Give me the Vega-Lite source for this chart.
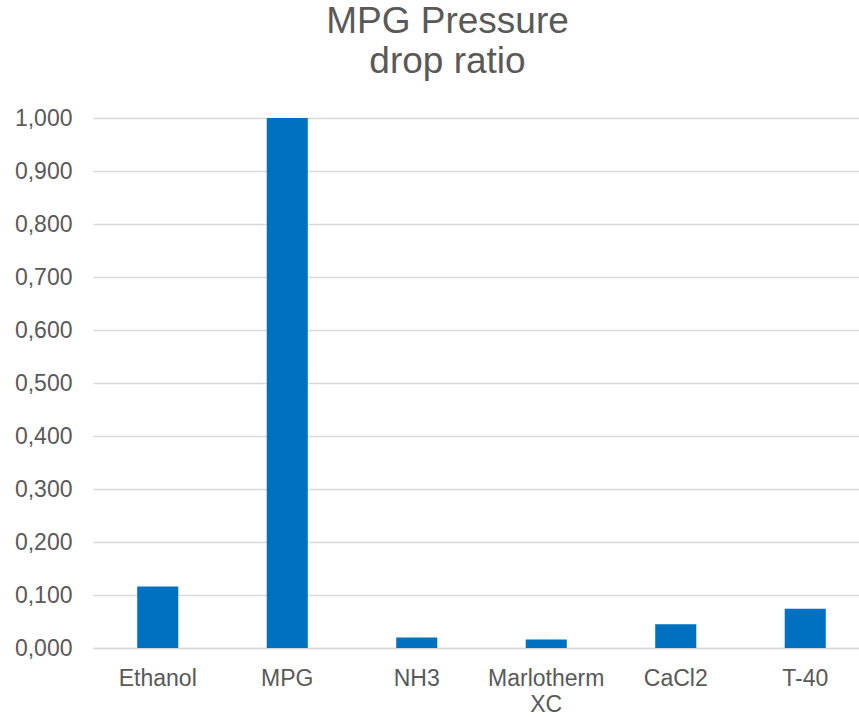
{
  "$schema": "https://vega.github.io/schema/vega-lite/v6.json",
  "autosize": "none",
  "width": 777,
  "height": 530,
  "padding": {"left": 93, "top": 118, "right": 0, "bottom": 69},
  "background": "white",
  "title": {
    "text": ["MPG Pressure", "drop ratio"],
    "font": "Liberation Sans",
    "fontSize": 37,
    "fontWeight": "normal",
    "color": "#595959",
    "lineHeight": 40,
    "anchor": "middle",
    "dx": -34,
    "offset": 26
  },
  "data": {
    "values": [
      {"fluid": "Ethanol", "ratio": 0.116},
      {"fluid": "MPG", "ratio": 1.0},
      {"fluid": "NH3", "ratio": 0.020},
      {"fluid": "Marlotherm XC", "ratio": 0.016},
      {"fluid": "CaCl2", "ratio": 0.045},
      {"fluid": "T-40", "ratio": 0.074}
    ]
  },
  "mark": {"type": "bar", "color": "#0070C0"},
  "encoding": {
    "x": {
      "field": "fluid",
      "type": "nominal",
      "sort": null,
      "scale": {"paddingInner": 0.683, "paddingOuter": 0.3415},
      "axis": {
        "title": null,
        "labelAngle": 0,
        "labelFont": "Liberation Sans",
        "labelFontSize": 23,
        "labelColor": "#595959",
        "labelPadding": 19,
        "labelLineHeight": 26,
        "labelExpr": "split(datum.label, ' ')",
        "ticks": false,
        "domain": true,
        "domainColor": "#d9d9d9",
        "domainWidth": 1.5,
        "grid": false
      }
    },
    "y": {
      "field": "ratio",
      "type": "quantitative",
      "scale": {"domain": [0, 1], "nice": false},
      "axis": {
        "title": null,
        "values": [0, 0.1, 0.2, 0.3, 0.4, 0.5, 0.6, 0.7, 0.8, 0.9, 1.0],
        "labelExpr": "replace(format(datum.value, '.3f'), '.', ',')",
        "labelFont": "Liberation Sans",
        "labelFontSize": 23,
        "labelColor": "#595959",
        "labelPadding": 21,
        "ticks": false,
        "domain": false,
        "grid": true,
        "gridColor": "#d9d9d9",
        "gridWidth": 1.5
      }
    }
  },
  "config": {
    "view": {"stroke": null}
  }
}
